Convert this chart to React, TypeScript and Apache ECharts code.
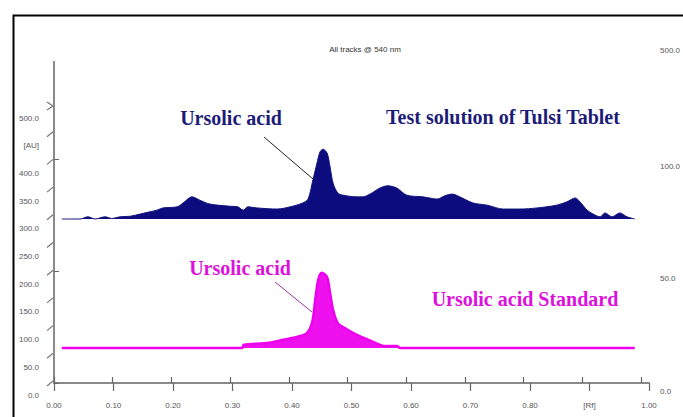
import React, { useEffect, useRef } from 'react';
import * as echarts from 'echarts';

// Bottom axis (Rf) tick labels
const xTickLabels = ['0.00', '0.10', '0.20', '0.30', '0.40', '0.50', '0.60', '0.70', '0.80', '[Rf]', '1.00'];
// Left axis tick values (AU)
const leftTicks = [0, 50, 100, 150, 200, 250, 300, 350, 400, 450, 500];
// Right axis tick values and labels
const rightTicks = [0, 50, 100, 143.3];
const rightLabels = ['0.0', '50.0', '100.0', '500.0'];

// Test solution of Tulsi Tablet (blue track)
const blueRf = [0.013, 0.044, 0.057, 0.069, 0.086, 0.097, 0.111, 0.128, 0.145, 0.161, 0.173, 0.183, 0.207, 0.217, 0.232, 0.245, 0.262, 0.296, 0.309, 0.318, 0.326, 0.341, 0.375, 0.397, 0.418, 0.427, 0.435, 0.442, 0.447, 0.452, 0.459, 0.464, 0.469, 0.477, 0.486, 0.509, 0.519, 0.531, 0.548, 0.561, 0.576, 0.593, 0.620, 0.644, 0.657, 0.669, 0.682, 0.704, 0.728, 0.755, 0.783, 0.812, 0.845, 0.862, 0.876, 0.884, 0.896, 0.906, 0.918, 0.926, 0.938, 0.951, 0.963, 0.976];
const blueAU = [296, 296, 300, 296, 300, 297, 300, 301, 305, 309, 312, 316, 318, 325, 336, 330, 323, 319, 318, 312, 318, 316, 314, 318, 325, 332, 366, 397, 417, 422, 415, 390, 361, 343, 339, 336, 336, 341, 352, 356, 352, 339, 336, 332, 338, 341, 336, 325, 321, 314, 314, 316, 321, 327, 334, 327, 312, 305, 300, 307, 300, 307, 300, 296];
const blueBase = 296;

// Ursolic acid Standard (magenta track)
const pinkRf = [0.013, 0.316, 0.319, 0.358, 0.385, 0.408, 0.425, 0.434, 0.439, 0.444, 0.450, 0.459, 0.464, 0.469, 0.477, 0.492, 0.509, 0.526, 0.545, 0.553, 0.576, 0.582, 0.976];
const pinkAU = [63, 63, 69, 72, 78, 83, 90, 110, 150, 186, 199, 191, 162, 132, 108, 97, 87, 79, 70, 67, 67, 63, 63];
const pinkBase = 63;

const AXIS = '#8a8a8a';
const LABEL = '#555';
const NARROW = '"Liberation Sans Narrow", "Liberation Sans", Arial, sans-serif';
const SERIF = '"Liberation Serif", "DejaVu Serif", serif';

export default function App() {
  const ref = useRef<HTMLDivElement>(null);
  useEffect(() => {
    if (!ref.current) return;
    const chart = echarts.init(ref.current, null, { renderer: 'svg' });
    const blueData = blueRf.map((x, i) => [x, blueAU[i]]);
    const pinkData = pinkRf.map((x, i) => [x, pinkAU[i]]);
    chart.setOption({
      animation: false,
      backgroundColor: '#fff',
      title: {
        text: 'All tracks @ 540 nm',
        left: 360,
        top: 40,
        textAlign: 'center',
        textStyle: { fontSize: 8, fontWeight: 'normal', color: '#333', fontFamily: NARROW },
      },
      grid: [
        { left: 54, top: 106, width: 595, height: 277 },
        { left: 54, top: 62, width: 595, height: 321 },
      ],
      xAxis: [
        {
          gridIndex: 0, type: 'value', min: 0, max: 1, interval: 0.1, position: 'bottom',
          axisLine: { show: true, lineStyle: { color: AXIS, width: 2 } },
          axisTick: { show: true, length: 8, lineStyle: { color: '#666', width: 1.2 } },
          axisLabel: {
            margin: 18, fontSize: 8, color: LABEL, fontFamily: NARROW,
            formatter: (v: number) => xTickLabels[Math.round(v * 10)],
          },
          splitLine: { show: false },
        },
        {
          gridIndex: 1, type: 'value', min: 0, max: 1, interval: 0.1, position: 'top',
          axisLine: { show: true, lineStyle: { color: AXIS, width: 2 } },
          axisTick: { show: true, length: 6, lineStyle: { color: '#666', width: 1.2 } },
          axisLabel: { show: false },
          splitLine: { show: false },
        },
      ],
      yAxis: [
        {
          gridIndex: 0, type: 'value', min: 0, max: 500, interval: 50, position: 'left',
          axisLine: { show: false },
          axisTick: { show: false },
          axisLabel: {
            margin: 15, fontSize: 8, color: LABEL, fontFamily: NARROW,
            formatter: (v: number) => '{n|' + (v === 450 ? '[AU]' : v.toFixed(1)) + '}',
            rich: {
              n: { fontSize: 8, color: LABEL, fontFamily: NARROW, padding: [24, 0, 0, 0] },
            },
          },
          splitLine: { show: false },
        },
        {
          gridIndex: 1, type: 'value', min: 0, max: 143.3, position: 'right',
          axisLine: { show: true, lineStyle: { color: AXIS, width: 2 } },
          axisTick: { show: true, length: 5, customValues: rightTicks.slice(0, 3), lineStyle: { color: '#666', width: 1 } },
          axisLabel: {
            margin: 19, fontSize: 8, color: LABEL, fontFamily: NARROW, align: 'left',
            customValues: rightTicks,
            formatter: (v: number) => {
              let i = -1;
              rightTicks.forEach((t, k) => { if (Math.abs(t - v) < 0.01) i = k; });
              const t = i >= 0 ? rightLabels[i] : '';
              return i === 3 ? '{t|' + t + '}' : '{n|' + t + '}';
            },
            rich: {
              t: { fontSize: 8, color: LABEL, fontFamily: NARROW, padding: [0, 0, 24, 0] },
              n: { fontSize: 8, color: LABEL, fontFamily: NARROW, padding: [16, 0, 0, 0] },
            },
          },
          splitLine: { show: false },
        },
        {
          gridIndex: 1, type: 'value', min: 0, max: 150, position: 'left',
          axisLine: { show: true, lineStyle: { color: AXIS, width: 2 } },
          axisTick: { show: false },
          axisLabel: { show: false },
          splitLine: { show: false },
        },
      ],
      series: [
        {
          name: 'Test solution of Tulsi Tablet',
          type: 'line', xAxisIndex: 0, yAxisIndex: 0,
          data: blueData, symbol: 'none', smooth: 0.3,
          lineStyle: { color: '#14147e', width: 1 },
          areaStyle: { color: '#0c0c7e', opacity: 1, origin: blueBase },
          z: 3,
        },
        {
          name: 'Ursolic acid Standard',
          type: 'line', xAxisIndex: 0, yAxisIndex: 0,
          data: pinkData, symbol: 'none', smooth: 0.3,
          lineStyle: { color: '#ee00ee', width: 2.5 },
          areaStyle: { color: '#ee10ee', opacity: 1, origin: pinkBase },
          z: 3,
        },
        {
          name: 'leftTicks',
          type: 'custom', xAxisIndex: 0, yAxisIndex: 0, clip: false, silent: true,
          data: leftTicks.map((v) => [0, v]),
          encode: { x: 0, y: 1 },
          renderItem: (params: any, api: any) => {
            const v = api.value(1);
            const p = api.coord([0, v]);
            if (v === 500) {
              return {
                type: 'polyline',
                shape: { points: [[p[0] - 7, p[1] - 4], [p[0] - 1, p[1]], [p[0] - 7, p[1] + 4]] },
                style: { stroke: '#777', fill: 'none', lineWidth: 1.2 },
              };
            }
            return {
              type: 'line',
              shape: { x1: p[0] - 7, y1: p[1] + 3, x2: p[0] - 1, y2: p[1] - 2 },
              style: { stroke: '#777', lineWidth: 1.2 },
            };
          },
        },
      ],
      graphic: [
        {
          type: 'rect', left: 11, top: 13, silent: true, z: 0,
          shape: { width: 800, height: 500 },
          style: { fill: 'none', stroke: '#000', lineWidth: 2 },
        },
        {
          type: 'line', silent: true, z: 10,
          shape: { x1: 264, y1: 137, x2: 313, y2: 179 },
          style: { stroke: '#222', lineWidth: 1 },
        },
        {
          type: 'line', silent: true, z: 10,
          shape: { x1: 275, y1: 282, x2: 312, y2: 312 },
          style: { stroke: '#a030a0', lineWidth: 1 },
        },
        {
          type: 'text', x: 231, y: 118, z: 10,
          style: { text: 'Ursolic acid', fill: '#1c1c78', font: 'bold 20px ' + SERIF, align: 'center', verticalAlign: 'middle' },
        },
        {
          type: 'text', x: 503, y: 117, z: 10,
          style: { text: 'Test solution of Tulsi Tablet', fill: '#1c1c78', font: 'bold 20px ' + SERIF, align: 'center', verticalAlign: 'middle' },
        },
        {
          type: 'text', x: 240, y: 268, z: 10,
          style: { text: 'Ursolic acid', fill: '#dd11dd', font: 'bold 20px ' + SERIF, align: 'center', verticalAlign: 'middle' },
        },
        {
          type: 'text', x: 525, y: 299, z: 10,
          style: { text: 'Ursolic acid Standard', fill: '#dd11dd', font: 'bold 20px ' + SERIF, align: 'center', verticalAlign: 'middle' },
        },
      ],
    });
    return () => chart.dispose();
  }, []);
  return (
    <div
      ref={ref}
      style={{ position: 'fixed', left: 0, top: 0, width: 683, height: 417, background: '#fff', overflow: 'hidden' }}
    />
  );
}
